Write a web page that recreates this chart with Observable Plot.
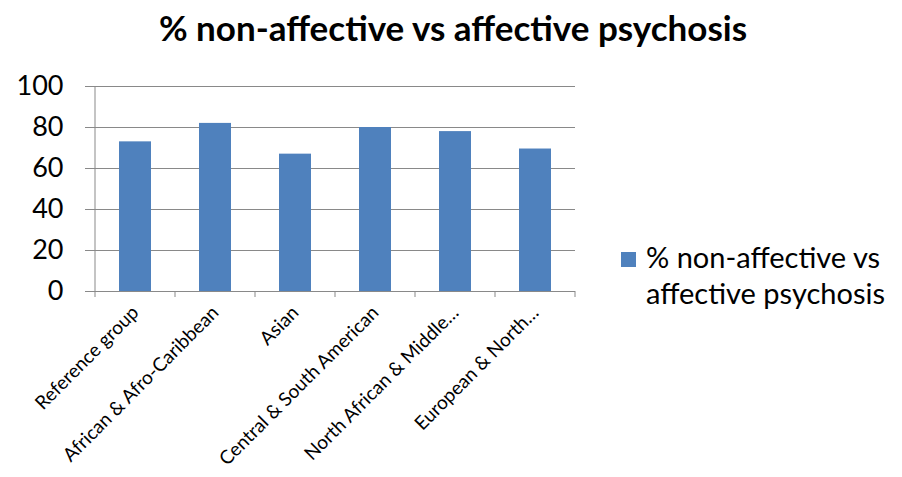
<!DOCTYPE html>
<html><head><meta charset="utf-8">
<script src="https://cdn.jsdelivr.net/npm/d3@7"></script>
<script src="https://cdn.jsdelivr.net/npm/@observablehq/plot@0.6"></script>
<style>
body{margin:0;background:#fff;font-family:Lato,sans-serif;}
#wrap{position:relative;width:902px;height:477px;overflow:hidden;}
#title{height:50px;text-align:center;font-weight:bold;font-size:35px;line-height:54px;color:#000;padding-left:4px;white-space:nowrap;}
#legend{position:absolute;left:621px;top:239px;font-size:29px;line-height:36px;color:#000;display:flex;align-items:flex-start;white-space:nowrap;}
#legend .sw{width:15px;height:15px;background:#4f81bd;margin-top:13px;margin-right:10px;flex:none;}
</style></head>
<body>
<div id="wrap">
<div id="title"></div>
<div id="chart"></div>
<div id="legend"><div class="sw"></div><div id="legtext"></div></div>
</div>
<script>
const titleText = "% non-affective vs affective psychosis";
const legendLines = ["% non-affective vs", "affective psychosis"];
const categories = ["Reference group", "African & Afro-Caribbean", "Asian", "Central & South American", "North African & Middle…", "European & North…"];
const values = [73, 82, 67, 80, 78, 69.5];
const yTicks = [0, 20, 40, 60, 80, 100];

document.getElementById("title").textContent = titleText;
document.getElementById("legtext").innerHTML = legendLines.map(s => `<div>${s}</div>`).join("");

const data = categories.map((c, i) => ({cat: c, value: values[i]}));
const gray = "#898989";

const plot = Plot.plot({
  width: 902, height: 427,
  marginLeft: 95, marginRight: 327, marginTop: 36, marginBottom: 186,
  style: {fontFamily: "Lato, sans-serif", background: "white", color: "#000", overflow: "visible"},
  x: {domain: categories, paddingInner: 0.6, paddingOuter: 0.3, tickSize: 0, tickPadding: 18, tickRotate: -45, label: null},
  y: {domain: [0, 100], ticks: yTicks, tickSize: 10, tickPadding: 22, label: null},
  marks: [
    Plot.ruleY(yTicks, {stroke: gray, strokeWidth: 1}),
    Plot.barY(data, {x: "cat", y: "value", fill: "#4f81bd"})
  ]
});
document.getElementById("chart").appendChild(plot);

const svg = d3.select(plot);
svg.selectAll('g[aria-label^="y-axis"] line, g[aria-label^="y-axis"] path').attr("stroke", gray).attr("stroke-opacity", 1);
svg.selectAll('g[aria-label^="y-axis"] text').attr("font-size", 27).attr("fill", "#000");
svg.selectAll('g[aria-label^="x-axis"] text').attr("font-size", 19).attr("fill", "#000");

// axis line and category boundary ticks, from the Plot scales
const xs = plot.scale("x"), ys = plot.scale("y");
const y0 = ys.apply(0), yTop = ys.apply(100);
const bounds = d3.range(categories.length + 1).map(i => xs.range[0] + i * xs.step);
const g = svg.append("g").attr("stroke", gray).attr("stroke-width", 1);
bounds.forEach((bx, i) => {
  g.append("line").attr("x1", bx).attr("x2", bx).attr("y1", i === 0 ? yTop : y0).attr("y2", y0 + 6);
});
</script>
</body></html>
